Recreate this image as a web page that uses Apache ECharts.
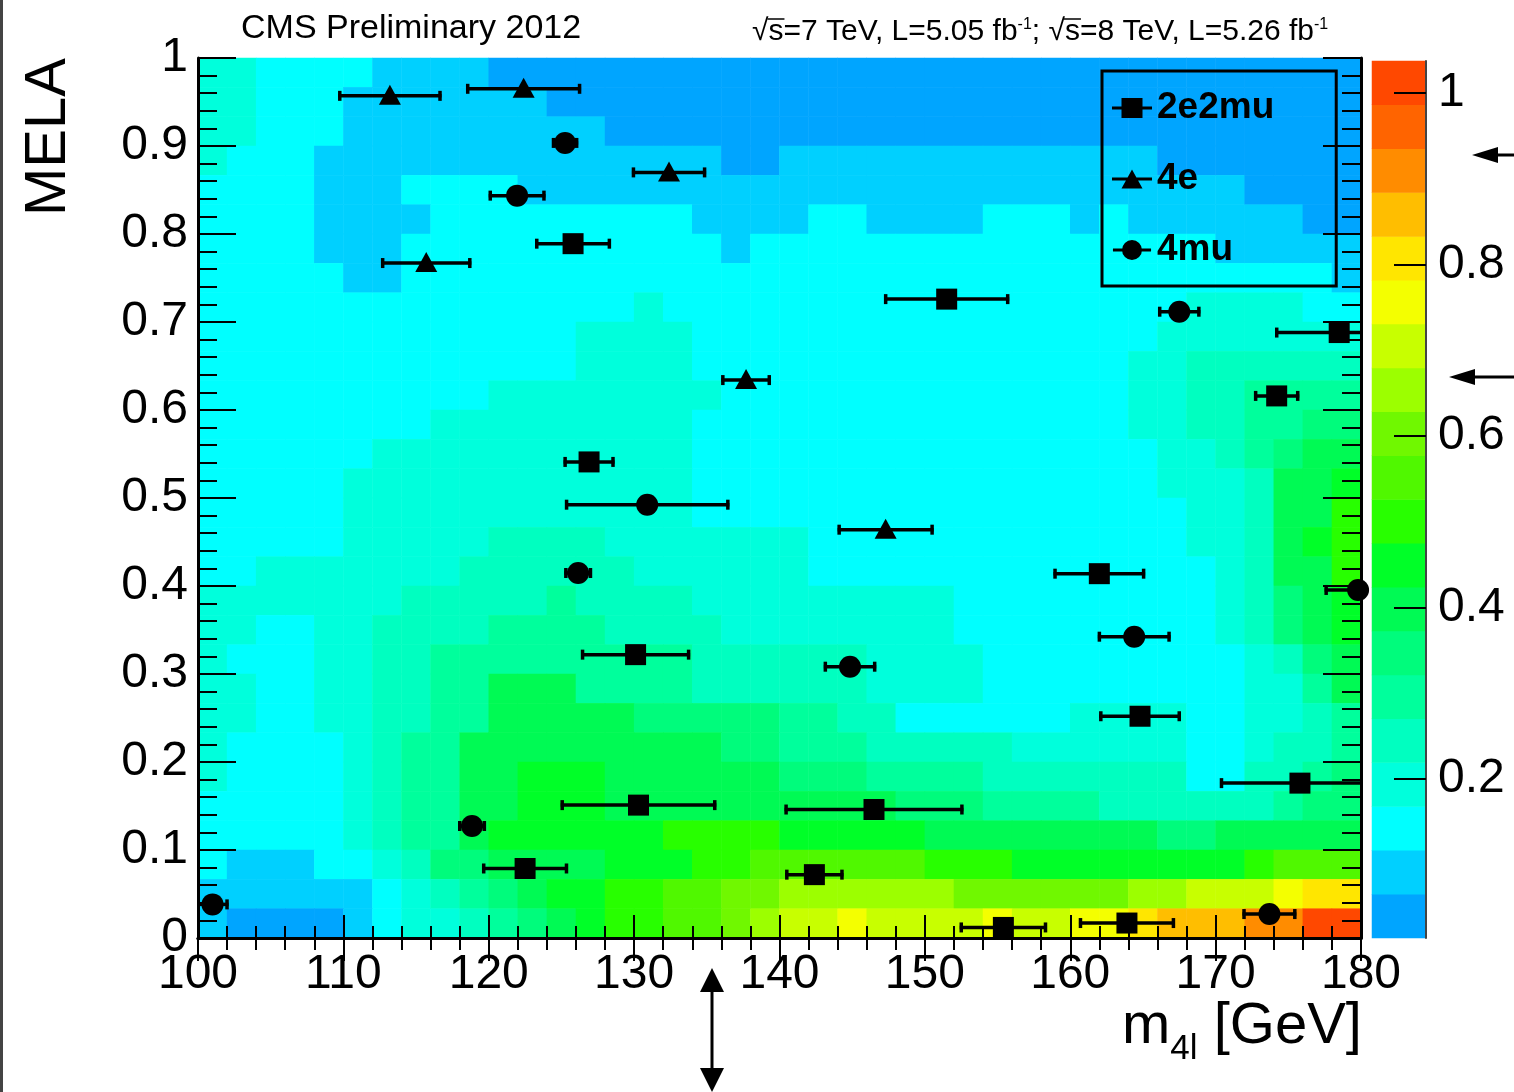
<!DOCTYPE html>
<html>
<head>
<meta charset="utf-8">
<title>MELA vs m4l</title>
<script src="https://cdn.jsdelivr.net/npm/echarts@6/dist/echarts.min.js"></script>
<style>
html, body { margin: 0; padding: 0; background: #fff; }
#chart { width: 1514px; height: 1092px; }
</style>
</head>
<body>
<div id="chart"></div>
<script>
var FONT = 'Liberation Sans, Arial, Helvetica, sans-serif';

// colour bands of the z scale, bottom to top
var PALETTE = ['#00a5ff', '#00d0ff', '#00ffff', '#00ffdc', '#00ffc0', '#00ff9c', '#00fc7c', '#00fa54',
               '#00ff28', '#28ff00', '#50f800', '#70f800', '#9cff00', '#c8ff00', '#f4ff00', '#ffe600',
               '#ffbe00', '#ff8c00', '#ff6400', '#ff4800'];
var Z_MIN = 0.015, Z_MAX = 1.037;
var Z_STEP = (Z_MAX - Z_MIN) / PALETTE.length;
var COLORBAR_TICKS = [0.2, 0.4, 0.6, 0.8, 1];

// background template, 2 GeV x 1/30 bins, band index per bin (run length "band:count"), top row first
var HEAT_ROWS = [
  '3:2 2:4 1:4 0:30',
  '3:2 2:3 1:7 0:28',
  '3:2 2:3 1:9 0:26',
  '3:1 2:3 1:14 0:2 1:13 0:7',
  '2:4 1:3 2:4 1:25 0:4',
  '2:4 1:4 2:9 1:4 2:2 1:4 2:3 1:1 2:1 1:6 0:2',
  '2:4 1:3 2:11 1:1 2:16 1:5',
  '2:5 1:2 2:32 1:1',
  '2:15 3:1 2:18 3:4 2:2',
  '2:13 3:4 2:16 3:7',
  '2:13 3:4 2:15 3:2 4:6',
  '2:10 3:8 2:14 3:2 4:2 5:4',
  '2:8 3:9 2:15 3:2 4:2 5:2 6:2',
  '2:6 3:11 2:16 3:2 4:1 5:1 6:1 7:2',
  '2:5 3:12 2:16 3:3 4:1 7:2 8:1',
  '2:5 3:12 2:17 3:2 4:1 7:2 9:1',
  '2:5 3:5 4:4 3:7 2:13 3:2 4:1 7:1 8:1 9:1',
  '2:2 3:7 4:6 3:6 2:14 3:1 4:1 7:2 9:1',
  '3:7 4:5 5:1 4:4 3:9 2:9 3:1 4:1 6:1 7:1 8:1',
  '3:2 2:2 3:2 4:4 5:4 4:4 3:8 2:9 3:1 4:1 6:1 7:1 8:1',
  '3:1 2:3 3:2 4:2 5:9 4:6 3:4 2:9 3:1 4:1 6:1 7:1',
  '3:2 2:2 3:2 4:2 5:2 7:3 5:4 4:6 3:4 2:9 3:2 5:1 7:1',
  '3:2 2:2 3:2 4:2 5:2 7:5 6:5 5:2 4:2 2:6 3:4 2:2 3:2 4:1 5:1',
  '3:1 2:4 3:1 4:1 5:2 7:9 6:2 5:3 4:5 3:6 2:2 3:1 4:2 5:1',
  '3:1 2:4 3:1 4:1 5:2 7:2 8:3 7:6 6:3 5:4 4:7 2:2 4:2 5:1 6:1',
  '2:5 3:1 4:1 5:2 7:2 8:3 7:10 6:3 5:4 4:6 5:1 6:2',
  '2:5 3:1 4:1 5:2 7:1 8:6 9:4 8:5 7:8 6:2 7:5',
  '2:1 1:3 2:2 3:1 4:1 6:2 7:4 8:3 9:2 a:6 9:3 8:8 9:1 a:3',
  '1:6 2:1 3:1 4:1 5:1 6:1 7:1 8:2 9:2 a:2 b:2 c:6 b:6 c:2 d:3 e:1 f:2',
  '1:1 0:4 1:1 2:1 3:2 4:1 5:1 6:1 7:1 8:1 9:2 a:2 b:1 c:1 d:2 e:1 d:4 e:1 d:2 e:2 f:1 g:3 h:2 j:2'
];
var M_MIN = 100, M_MAX = 180, M_BIN = 2;

// events: m4l [GeV], MELA, half width of the m4l error
var M4L_2E2MU  = [125.8, 151.5, 178.5, 174.2, 126.9, 162.0, 130.1, 164.8, 175.8, 130.3, 146.5, 122.5, 142.4, 155.4, 163.9];
var MELA_2E2MU = [0.789, 0.726, 0.688, 0.616, 0.541, 0.414, 0.322, 0.252, 0.176, 0.151, 0.146, 0.079, 0.072, 0.012, 0.017];
var ERR_2E2MU  = [2.6, 4.3, 4.4, 1.55, 1.75, 3.15, 3.75, 2.8, 5.5, 5.35, 6.15, 2.95, 2.0, 3.0, 3.3];

var M4L_4E  = [113.2, 122.4, 132.4, 115.7, 137.7, 147.3];
var MELA_4E = [0.957, 0.965, 0.870, 0.767, 0.634, 0.464];
var ERR_4E  = [3.55, 3.95, 2.55, 3.1, 1.7, 3.3];

var M4L_4MU  = [125.25, 121.95, 167.5, 130.9, 126.15, 179.8, 164.4, 144.85, 118.85, 101.0, 173.7];
var MELA_4MU = [0.9035, 0.8436, 0.7117, 0.4924, 0.4148, 0.3955, 0.3424, 0.3083, 0.1273, 0.0382, 0.0272];
var ERR_4MU  = [0.9, 1.95, 1.45, 5.65, 0.95, 2.3, 2.5, 1.8, 0.95, 1.1, 1.85];

var LUMI_PARTS = ['√', 's=7 TeV, L=5.05 fb', '-1', '; √', 's=8 TeV, L=5.26 fb', '-1'];

var chart = echarts.init(document.getElementById('chart'));

// decode template
var nRows = HEAT_ROWS.length;
var heatData = [];
var nCols = 0;
HEAT_ROWS.forEach(function (row, r) {
    var c = 0;
    row.split(' ').forEach(function (run) {
        var p = run.split(':');
        var k = parseInt(p[0], 36);
        for (var i = 0; i < +p[1]; i++) {
            heatData.push([c, nRows - 1 - r, Z_MIN + (k + 0.5) * Z_STEP]);
            c++;
        }
    });
    nCols = Math.max(nCols, c);
});
var xBins = [];
for (var i = 0; i < nCols; i++) xBins.push(String(M_MIN + i * M_BIN));
var yBins = [];
for (var j = 0; j < nRows; j++) yBins.push(String(j));
var bandCats = [];
var barData = [];
PALETTE.forEach(function (col, k) {
    bandCats.push(String(k));
    barData.push([0, k, Z_MIN + (k + 0.5) * Z_STEP]);
});
var pieces = PALETTE.map(function (col, k) {
    return { gte: Z_MIN + k * Z_STEP, lt: Z_MIN + (k + 1) * Z_STEP, color: col };
});

var ICONS = {
    square: 'path://M0,8.5L40,8.5L40,11.5L0,11.5Z M9.5,0L30.5,0L30.5,20L9.5,20Z',
    triangle: 'path://M0,8.5L40,8.5L40,11.5L0,11.5Z M20,0.5L30.5,19.5L9.5,19.5Z',
    circle: 'path://M0,8.5L40,8.5L40,11.5L0,11.5Z M20,-0.5A10.5,10.5,0,1,1,20,20.5A10.5,10.5,0,1,1,20,-0.5Z'
};

function marker(shape, p) {
    if (shape === 'square') {
        return { type: 'rect', shape: { x: p[0] - 10.5, y: p[1] - 10.5, width: 21, height: 21 }, style: { fill: '#000' } };
    }
    if (shape === 'triangle') {
        return { type: 'polygon', shape: { points: [[p[0], p[1] - 11], [p[0] + 11, p[1] + 9], [p[0] - 11, p[1] + 9]] }, style: { fill: '#000' } };
    }
    return { type: 'circle', shape: { cx: p[0], cy: p[1], r: 11 }, style: { fill: '#000' } };
}

function pointSeries(name, m, mela, err, shape) {
    return {
        name: name,
        type: 'custom',
        xAxisIndex: 0,
        yAxisIndex: 0,
        z: 20,
        itemStyle: { color: '#000' },
        data: m.map(function (x, i) { return [x, mela[i], err[i]]; }),
        renderItem: function (params, api) {
            var x = api.value(0), y = api.value(1), e = api.value(2);
            var p = api.coord([x, y]);
            var lo = api.coord([Math.max(x - e, M_MIN), y]);
            var hi = api.coord([Math.min(x + e, M_MAX), y]);
            var st = { stroke: '#000', lineWidth: 3.5 };
            var ch = [{ type: 'line', shape: { x1: lo[0], y1: p[1], x2: hi[0], y2: p[1] }, style: st }];
            if (x - e > M_MIN) ch.push({ type: 'line', shape: { x1: lo[0] + 1.5, y1: p[1] - 5, x2: lo[0] + 1.5, y2: p[1] + 5 }, style: st });
            if (x + e < M_MAX) ch.push({ type: 'line', shape: { x1: hi[0] - 1.5, y1: p[1] - 5, x2: hi[0] - 1.5, y2: p[1] + 5 }, style: st });
            ch.push(marker(shape, p));
            return { type: 'group', children: ch };
        }
    };
}

function arrowH(tipX, tailX, y) {
    return {
        type: 'group',
        children: [
            { type: 'line', shape: { x1: tipX + 20, y1: y, x2: tailX, y2: y }, style: { stroke: '#000', lineWidth: 3 } },
            { type: 'polygon', shape: { points: [[tipX, y], [tipX + 26, y - 8], [tipX + 26, y + 8]] }, style: { fill: '#000' } }
        ]
    };
}

// luminosity line: rich text plus the bars over the "s" of each square root
var LUMI_X = 752, LUMI_Y = 32, LUMI_SIZE = 30, SUP_SIZE = 16;
var ctx = document.createElement('canvas').getContext('2d');
function textWidth(t, size) {
    ctx.font = size + 'px ' + FONT;
    return ctx.measureText(t).width;
}
var lumiGraphics = [];
var cursor = LUMI_X;
LUMI_PARTS.forEach(function (part) {
    var isSup = part === '-1';
    var w = textWidth(part, isSup ? SUP_SIZE : LUMI_SIZE);
    if (part.charAt(0) === 's') {
        var sw = textWidth('s', LUMI_SIZE);
        lumiGraphics.push({ type: 'line', shape: { x1: cursor - 1, y1: LUMI_Y - 13, x2: cursor + sw + 1, y2: LUMI_Y - 13 }, style: { stroke: '#000', lineWidth: 1.5 } });
    }
    cursor += w;
});

var tickStyle = { color: '#000', width: 2 };
var lineStyle = { color: '#000', width: 3 };
var labelFont = { fontFamily: FONT, fontSize: 48, color: '#000' };

option = {
    backgroundColor: '#fff',
    animation: false,
    grid: [
        { left: 198, top: 58, width: 1163, height: 880 },
        { left: 198, top: 58, width: 1163, height: 880 },
        { left: 1372, top: 61, width: 54, height: 877 }
    ],
    xAxis: [
        {
            type: 'value', gridIndex: 0, position: 'bottom', min: M_MIN, max: M_MAX, interval: 10, z: 10,
            axisLine: { show: true, lineStyle: lineStyle },
            axisTick: { show: true, inside: true, length: 23, lineStyle: tickStyle },
            minorTick: { show: true, splitNumber: 5, length: 12, lineStyle: tickStyle },
            axisLabel: Object.assign({ margin: 13 }, labelFont),
            splitLine: { show: false }
        },
        {
            type: 'value', gridIndex: 0, position: 'top', min: M_MIN, max: M_MAX, interval: 10, z: 10,
            axisLine: { show: true, lineStyle: lineStyle },
            axisTick: { show: true, inside: true, length: 23, lineStyle: tickStyle },
            minorTick: { show: true, splitNumber: 5, length: 12, lineStyle: tickStyle },
            axisLabel: { show: false },
            splitLine: { show: false }
        },
        { type: 'category', gridIndex: 1, data: xBins, show: false },
        { type: 'category', gridIndex: 2, data: ['z'], show: false }
    ],
    yAxis: [
        {
            type: 'value', gridIndex: 0, position: 'left', min: 0, max: 1, interval: 0.1, z: 10,
            axisLine: { show: true, lineStyle: lineStyle },
            axisTick: { show: true, inside: true, length: 38, lineStyle: tickStyle },
            minorTick: { show: true, splitNumber: 5, length: 19, lineStyle: tickStyle },
            axisLabel: Object.assign({ margin: 10, padding: [6, 0, 0, 0] }, labelFont),
            splitLine: { show: false }
        },
        {
            type: 'value', gridIndex: 0, position: 'right', min: 0, max: 1, interval: 0.1, z: 10,
            axisLine: { show: true, lineStyle: lineStyle },
            axisTick: { show: true, inside: true, length: 38, lineStyle: tickStyle },
            minorTick: { show: true, splitNumber: 5, length: 19, lineStyle: tickStyle },
            axisLabel: { show: false },
            splitLine: { show: false }
        },
        { type: 'category', gridIndex: 1, data: yBins, show: false },
        { type: 'category', gridIndex: 2, data: bandCats, show: false, position: 'left' },
        {
            type: 'value', gridIndex: 2, position: 'right', min: Z_MIN, max: Z_MAX, z: 10,
            axisLine: { show: true, lineStyle: { color: '#444', width: 2 } },
            axisTick: { show: true, inside: true, length: 32, customValues: COLORBAR_TICKS, lineStyle: tickStyle },
            axisLabel: Object.assign({ margin: 12, padding: [6, 0, 0, 0], customValues: COLORBAR_TICKS }, labelFont),
            splitLine: { show: false }
        }
    ],
    visualMap: {
        type: 'piecewise',
        show: false,
        dimension: 2,
        seriesIndex: [0, 1],
        pieces: pieces
    },
    legend: {
        left: 1102,
        top: 71,
        orient: 'vertical',
        padding: [17, 62, 16, 10],
        borderColor: '#000',
        borderWidth: 3,
        itemWidth: 40,
        itemHeight: 20,
        itemGap: 31,
        selectedMode: false,
        z: 30,
        textStyle: { fontFamily: FONT, fontSize: 37, fontWeight: 'bold', color: '#000', lineHeight: 40 },
        data: [
            { name: '2e2mu', icon: ICONS.square },
            { name: '4e', icon: ICONS.triangle },
            { name: '4mu', icon: ICONS.circle }
        ]
    },
    series: [
        { type: 'heatmap', xAxisIndex: 2, yAxisIndex: 2, z: 1, data: heatData, itemStyle: { borderWidth: 0 }, emphasis: { disabled: true } },
        { type: 'heatmap', xAxisIndex: 3, yAxisIndex: 3, z: 1, data: barData, itemStyle: { borderWidth: 0 }, emphasis: { disabled: true } },
        pointSeries('2e2mu', M4L_2E2MU, MELA_2E2MU, ERR_2E2MU, 'square'),
        pointSeries('4e', M4L_4E, MELA_4E, ERR_4E, 'triangle'),
        pointSeries('4mu', M4L_4MU, MELA_4MU, ERR_4MU, 'circle')
    ],
    graphic: [
        { type: 'rect', x: 0, y: 0, shape: { width: 3, height: 1092 }, style: { fill: '#444' } },
        {
            type: 'text', x: 241, y: 29,
            style: { text: 'CMS Preliminary 2012', fontFamily: FONT, fontSize: 34, fill: '#000', align: 'left', verticalAlign: 'middle' }
        },
        {
            type: 'text', x: LUMI_X, y: LUMI_Y,
            style: {
                text: LUMI_PARTS[0] + LUMI_PARTS[1] + '{sup|' + LUMI_PARTS[2] + '}' + LUMI_PARTS[3] + LUMI_PARTS[4] + '{sup|' + LUMI_PARTS[5] + '}',
                fontFamily: FONT, fontSize: LUMI_SIZE, lineHeight: 30, fill: '#000', align: 'left', verticalAlign: 'middle',
                rich: { sup: { fontFamily: FONT, fontSize: SUP_SIZE, lineHeight: 22, verticalAlign: 'top', fill: '#000' } }
            }
        },
        {
            type: 'text', x: 49, y: 58, rotation: Math.PI / 2,
            style: { text: 'MELA', fontFamily: FONT, fontSize: 58, fill: '#000', align: 'right', verticalAlign: 'middle' }
        },
        {
            type: 'text', x: 1122, y: 1027,
            style: {
                text: 'm{sub|4l} [GeV]',
                fontFamily: FONT, fontSize: 58, lineHeight: 80, fill: '#000', align: 'left', verticalAlign: 'middle',
                rich: { sub: { fontFamily: FONT, fontSize: 35, lineHeight: 34, verticalAlign: 'bottom', fill: '#000' } }
            }
        },
        arrowH(1472, 1514, 155),
        arrowH(1449, 1514, 377),
        {
            type: 'group',
            children: [
                { type: 'line', shape: { x1: 712, y1: 985, x2: 712, y2: 1075 }, style: { stroke: '#000', lineWidth: 3 } },
                { type: 'polygon', shape: { points: [[712, 968], [700, 992], [724, 992]] }, style: { fill: '#000' } },
                { type: 'polygon', shape: { points: [[712, 1092], [700, 1068], [724, 1068]] }, style: { fill: '#000' } }
            ]
        }
    ].concat(lumiGraphics)
};

chart.setOption(option);
</script>
</body>
</html>
